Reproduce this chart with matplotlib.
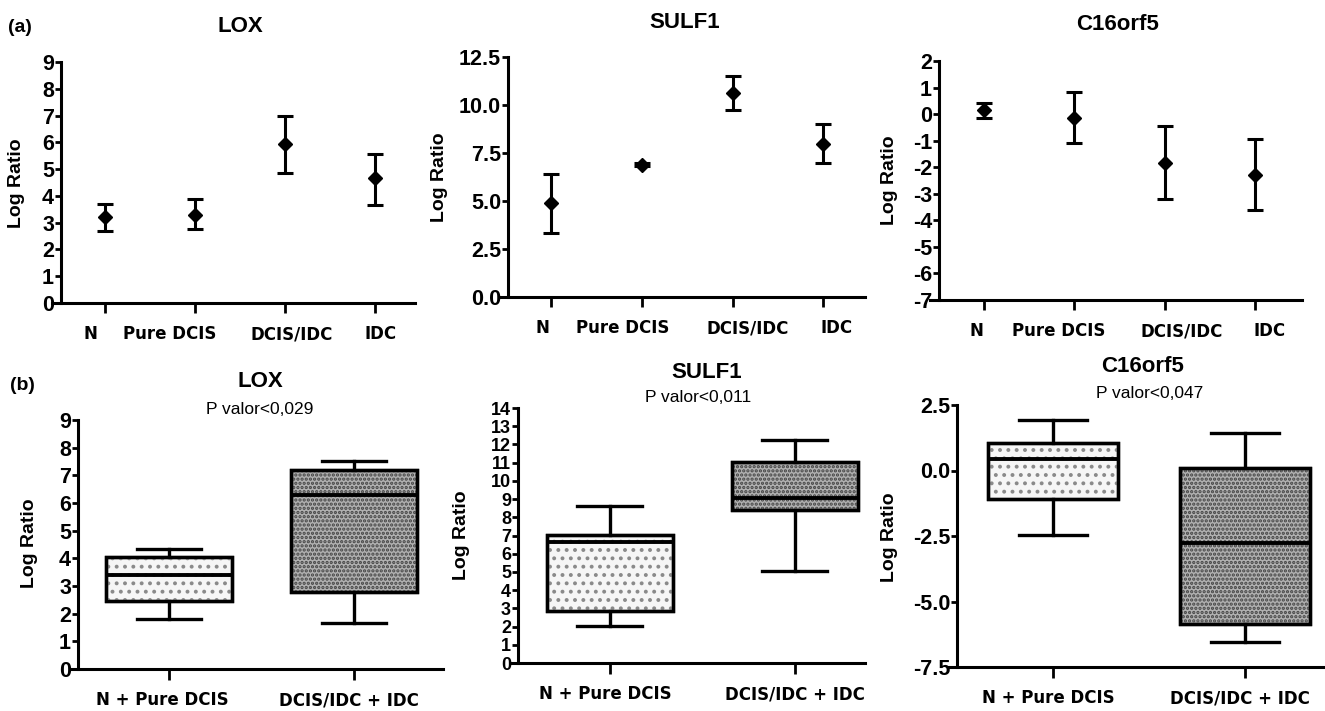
import matplotlib
matplotlib.use("Agg")
import matplotlib.pyplot as plt
from matplotlib.patches import PathPatch
from matplotlib.transforms import ScaledTranslation

# Daten: Panel (a) - Mittelwert mit Fehlerbalken
groups_a = ["N", "Pure DCIS", "DCIS/IDC", "IDC"]
lox_mean = [3.2, 3.3, 5.95, 4.65]
lox_lo = [2.7, 2.75, 4.85, 3.65]
lox_hi = [3.7, 3.9, 7.0, 5.55]
sulf1_mean = [4.9, 6.9, 10.6, 7.95]
sulf1_lo = [3.35, 6.8, 9.75, 7.0]
sulf1_hi = [6.4, 7.0, 11.5, 9.0]
c16_mean = [0.15, -0.15, -1.85, -2.3]
c16_lo = [-0.15, -1.1, -3.2, -3.6]
c16_hi = [0.4, 0.85, -0.45, -0.95]

# Daten: Panel (b) - Boxplots
groups_b = ["N + Pure DCIS", "DCIS/IDC + IDC"]
lox_whislo = [1.8, 1.65]
lox_q1 = [2.45, 2.8]
lox_med = [3.4, 6.3]
lox_q3 = [4.05, 7.2]
lox_whishi = [4.35, 7.52]
sulf1_whislo = [2.05, 5.05]
sulf1_q1 = [2.83, 8.42]
sulf1_med = [6.65, 9.06]
sulf1_q3 = [7.04, 11.04]
sulf1_whishi = [8.62, 12.22]
c16_whislo = [-2.47, -6.55]
c16_q1 = [-1.1, -5.85]
c16_med = [0.43, -2.76]
c16_q3 = [1.06, 0.08]
c16_whishi = [1.93, 1.42]
p_values = ["P valor<0,029", "P valor<0,011", "P valor<0,047"]

W, H = 1325, 711
fig = plt.figure(figsize=(W / 100, H / 100), dpi=100)
plt.rcParams["hatch.linewidth"] = 1.6

TICK_FONT = ["Liberation Sans Narrow", "Liberation Sans"]
CAT_FONT = "DejaVu Sans"


def make_axes(left, right, top, bottom, xlim, spine_x, ylim, yticks, yfmt, label_xy, tsize=15.5):
    ax = fig.add_axes([left / W, 1 - bottom / H, (right - left) / W, (bottom - top) / H])
    ax.set_xlim(*xlim)
    ax.set_ylim(*ylim)
    for s in ["top", "right"]:
        ax.spines[s].set_visible(False)
    for s in ["left", "bottom"]:
        ax.spines[s].set_linewidth(2.2)
    ax.spines["left"].set_position(("data", spine_x))
    ax.set_yticks(yticks)
    ax.set_yticklabels([yfmt.format(v) for v in yticks], family=TICK_FONT,
                       fontsize=tsize, fontweight="bold")
    ax.tick_params(axis="y", direction="out", length=4, width=2, pad=1)
    ax.set_ylabel("Log Ratio", family=["Liberation Sans"], fontsize=14, fontweight="bold")
    lx, ly = label_xy
    ax.yaxis.set_label_coords((lx - left) / (right - left), (bottom - ly) / (bottom - top))
    ax.patch.set_alpha(0)
    return ax


def shift_labels(ax, offsets):
    # Beschriftungen wie im Original leicht versetzt
    for lbl, dx in zip(ax.get_xticklabels(), offsets):
        lbl.set_transform(lbl.get_transform() + ScaledTranslation(dx / 100, 0, fig.dpi_scale_trans))


# (a) obere Reihe
top_specs = [
    ("LOX", lox_mean, lox_lo, lox_hi, (52, 415, 62, 303), (-0.589, 3.444), -0.489,
     (0, 9), list(range(0, 10)), "{:d}", (25, 183), (240, 27), [-15, -25, 7, 6]),
    ("SULF1", sulf1_mean, sulf1_lo, sulf1_hi, (500, 865, 57, 297), (-0.5625, 3.46), -0.474,
     (0, 12.5), [0.0, 2.5, 5.0, 7.5, 10.0, 12.5], "{:.1f}", (448, 177), (685, 23), [-9, -19, 15, 13]),
    ("C16orf5", c16_mean, c16_lo, c16_hi, (930, 1302, 61, 300), (-0.598, 3.52), -0.498,
     (-7, 2), list(range(-7, 3)), "{:d}", (898, 180), (1118, 25), [-8, -16, 17, 15]),
]

for title, mean, lo, hi, (l, r, t, b), xl, sx, yl, yt, fmt, lab, tpos, offs in top_specs:
    ax = make_axes(l, r, t, b, xl, sx, yl, yt, fmt, lab)
    x = list(range(len(groups_a)))
    err = [[m - a for m, a in zip(mean, lo)], [c - m for m, c in zip(mean, hi)]]
    ax.errorbar(x, mean, yerr=err, fmt="D", color="black", markersize=7,
                elinewidth=2.2, capsize=6, capthick=2.2, clip_on=False)
    ax.set_xticks(x)
    ax.set_xticklabels(groups_a, family=CAT_FONT, fontsize=12, fontweight="bold")
    ax.tick_params(axis="x", direction="out", length=7, width=2, pad=9)
    shift_labels(ax, offs)
    fig.text(tpos[0] / W, 1 - tpos[1] / H, title, ha="center", va="center",
             family="Liberation Sans", fontsize=16, fontweight="bold")

# (b) untere Reihe
bottom_specs = [
    ("LOX", (lox_whislo, lox_q1, lox_med, lox_q3, lox_whishi), (70, 443, 420, 669),
     (-0.535, 1.481), -0.492, (0, 9), list(range(0, 10)), "{:d}", (38, 543),
     (260, 382), (260, 410), [-7, -5], 15.5),
    ("SULF1", (sulf1_whislo, sulf1_q1, sulf1_med, sulf1_q3, sulf1_whishi), (510, 865, 408, 663),
     (-0.54, 1.38), -0.497, (0, 14), list(range(0, 15)), "{:d}", (470, 535),
     (707, 372), (698, 398), [-5, 0], 13),
    ("C16orf5", (c16_whislo, c16_q1, c16_med, c16_q3, c16_whishi), (949, 1325, 405, 667),
     (-0.542, 1.417), -0.5, (-7.5, 2.5), [-7.5, -5.0, -2.5, 0.0, 2.5], "{:.1f}", (898, 537),
     (1143, 367), (1150, 393), [-5, -5], 15.5),
]

box_faces = ["#f6f6f6", "#b0b0b0"]
hatch_styles = [("..", "#8a8a8a"), ("....", "#444444")]

for i, (title, (wlo, q1, med, q3, whi), (l, r, t, b), xl, sx, yl, yt, fmt, lab, tpos, ppos, offs, ts) in enumerate(bottom_specs):
    ax = make_axes(l, r, t, b, xl, sx, yl, yt, fmt, lab, tsize=ts)
    stats = [dict(whislo=wlo[k], q1=q1[k], med=med[k], q3=q3[k], whishi=whi[k], fliers=[])
             for k in range(len(groups_b))]
    bp = ax.bxp(stats, positions=[0, 1], widths=0.68, capwidths=0.35, patch_artist=True,
                showfliers=False,
                boxprops=dict(linewidth=2.4, edgecolor="black"),
                medianprops=dict(color="black", linewidth=2.8, zorder=4),
                whiskerprops=dict(color="black", linewidth=2.4),
                capprops=dict(color="black", linewidth=2.4))
    for patch, face, (hs, hc) in zip(bp["boxes"], box_faces, hatch_styles):
        patch.set_facecolor(face)
        patch.set_zorder(2)
        overlay = PathPatch(patch.get_path(), transform=patch.get_transform(),
                            facecolor="none", edgecolor=hc, hatch=hs, linewidth=0, zorder=2.5)
        ax.add_patch(overlay)
        outline = PathPatch(patch.get_path(), transform=patch.get_transform(),
                            facecolor="none", edgecolor="black", linewidth=2.4, zorder=3)
        ax.add_patch(outline)
    ax.set_xticks([0, 1])
    ax.set_xticklabels(groups_b, family=CAT_FONT, fontsize=12, fontweight="bold")
    ax.tick_params(axis="x", direction="out", length=8, width=2, pad=8)
    shift_labels(ax, offs)
    fig.text(tpos[0] / W, 1 - tpos[1] / H, title, ha="center", va="center",
             family="Liberation Sans", fontsize=16, fontweight="bold")
    fig.text(ppos[0] / W, 1 - ppos[1] / H, p_values[i], ha="center", va="center",
             family="Liberation Sans", fontsize=12.5)

fig.text(8 / W, 1 - 27 / H, "(a)", ha="left", va="center", family="Liberation Sans",
         fontsize=14, fontweight="bold")
fig.text(10 / W, 1 - 385 / H, "(b)", ha="left", va="center", family="Liberation Sans",
         fontsize=14, fontweight="bold")

fig.savefig("out.png", dpi=100, facecolor="white")
